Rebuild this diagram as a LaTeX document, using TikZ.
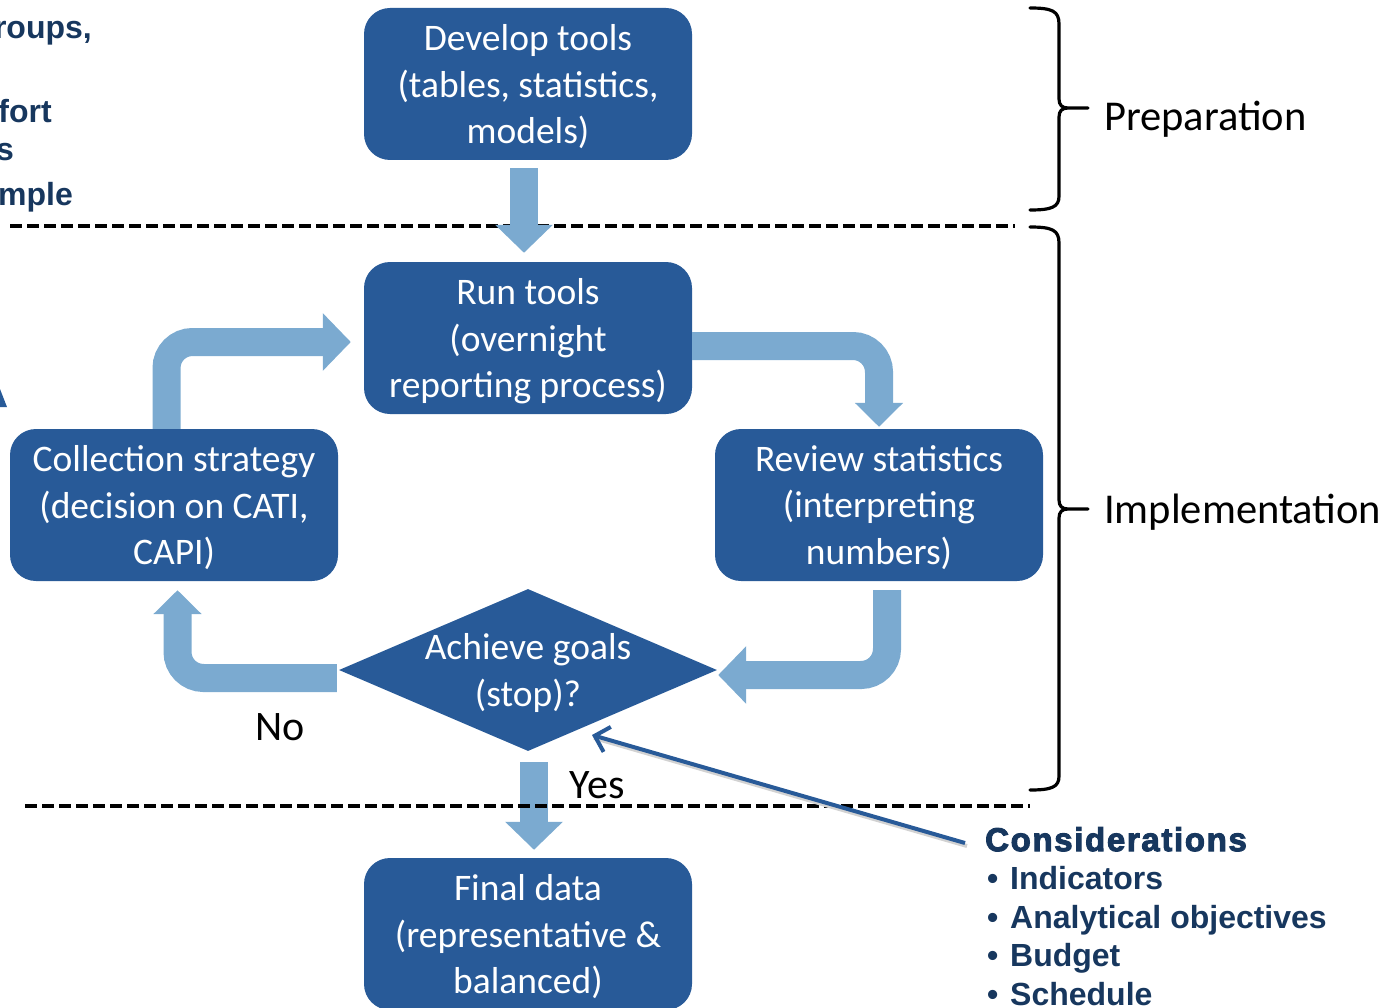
\documentclass[tikz,border=0pt]{standalone}
\usepackage{fontspec}
\usepackage{xcolor}
\setmainfont{Carlito}
\newfontfamily\notefont{Liberation Sans}
\newfontfamily\heavyfont{Liberation Sans Bold}[FakeBold=3, LetterSpace=5]
\usetikzlibrary{shapes.geometric, arrows.meta, positioning, calc}
\definecolor{boxblue}{RGB}{40, 90, 152}
\definecolor{flowblue}{RGB}{123, 170, 208}
\definecolor{notenavy}{RGB}{23, 55, 94}
\tikzstyle{process} = [rectangle, rounded corners=26pt, minimum width=328pt, minimum height=152pt, text centered, align=center, fill=boxblue, text=white, font=\fontsize{37.5}{46.5}\selectfont, text depth=0pt]
\tikzstyle{decision} = [diamond, minimum width=378pt, minimum height=162pt, inner sep=0pt, fill=boxblue]
\tikzstyle{boxlabel} = [align=center, text=white, font=\fontsize{37.5}{46.5}\selectfont, text depth=0pt]
\tikzstyle{flow} = [line width=28pt, draw=flowblue, rounded corners=26pt, -{Triangle[length=28pt, width=56pt]}]
\tikzstyle{smallflow} = [flow, -{Triangle[length=24pt, width=47pt]}]
\tikzstyle{pointer} = [line width=4pt, draw=boxblue, -{Straight Barb[length=13pt, width=26pt]}]
\tikzstyle{stage} = [line width=3.2pt, line cap=round]
\tikzstyle{cut} = [line width=3.5pt, dash pattern=on 12pt off 5pt]
\tikzstyle{answer} = [inner sep=0pt, font=\fontsize{42}{48}\selectfont]
\tikzstyle{phase} = [anchor=west, inner sep=0pt, font=\fontsize{42.5}{50}\selectfont]
\tikzstyle{note} = [inner sep=0pt, text=notenavy, align=left, font=\notefont\bfseries\fontsize{32}{38.5}\selectfont]

\begin{document}
\begin{tikzpicture}[x=1pt, y=-1pt]
\clip (0,0) rectangle (1396,1008);

% Main loop
\node (develop) [process] at (528,84) {Develop tools\\(tables, statistics,\\models)};
\node (run) [process, below of=develop, node distance=254pt] {Run tools\\(overnight\\reporting process)};
\node (goal) [decision, below of=run, node distance=332pt] {};
\node (goaltext) [boxlabel] at (goal) {Achieve goals\\(stop)?};
\node (final) [process, below of=goal, node distance=264pt] {Final data\\(representative \&\\balanced)};
\node (collect) [process, below of=run, node distance=167pt, xshift=-354pt] {Collection strategy\\(decision on CATI,\\CAPI)};
\node (review) [process, below of=run, node distance=167pt, xshift=351pt] {Review statistics\\(interpreting\\numbers)};

% Stage separator (behind the first arrow)
\draw [cut] (10,226) -- (1015,226);

% Arrows
\draw [flow] ([xshift=-4pt, yshift=-8pt]develop.south) -- ([xshift=-4pt, yshift=9pt]run.north);
\draw [flow] ([xshift=-7.5pt]collect.north) |- ([xshift=-13pt, yshift=-4pt]run.west);
\draw [smallflow] ([yshift=-8pt]run.east) -| ([yshift=2pt]review.north);
\draw [flow] ([xshift=8pt, yshift=-9pt]review.south) |- ([xshift=1pt, yshift=-5pt]goal.east);
\draw [smallflow] ([xshift=-2pt, yshift=-8pt]goal.west) -| ([xshift=3.5pt, yshift=-9pt]collect.south);
\draw [flow] ([xshift=6pt, yshift=-11pt]goal.south) -- ([xshift=6pt, yshift=8pt]final.north);

\node (no) [answer] at (280,727) {No};
\node (yes) [answer] at (597,785) {Yes};

% Stage separator (over the last arrow)
\draw [cut] (25,806) -- (1030,806);

% Braces
\draw [stage] (1030,8) .. controls (1052,8) and (1059,11) .. (1059,24) -- (1059,99)
  .. controls (1059,105) and (1062,108) .. (1068,108) -- (1088,108)
  (1068,108) .. controls (1062,108) and (1059,111) .. (1059,117) -- (1059,196)
  .. controls (1059,207) and (1052,210) .. (1030,210);
\draw [stage] (1030,227) .. controls (1052,227) and (1059,230) .. (1059,243) -- (1059,500)
  .. controls (1059,506) and (1062,509) .. (1068,509) -- (1088,509)
  (1068,509) .. controls (1062,509) and (1059,512) .. (1059,518) -- (1059,776)
  .. controls (1059,787) and (1052,790) .. (1030,790);
\node (prep) [phase] at (1104,119) {Preparation};
\node (impl) [phase] at (1104,512) {Implementation};

% Considerations
\node (consider) [note, anchor=north west] at (985,827) {{\heavyfont\fontsize{33}{38.5}\selectfont Considerations}\\
  \makebox[25pt][l]{\hspace{2pt}•}Indicators\\
  \makebox[25pt][l]{\hspace{2pt}•}Analytical objectives\\
  \makebox[25pt][l]{\hspace{2pt}•}Budget\\
  \makebox[25pt][l]{\hspace{2pt}•}Schedule};
\coordinate (aim) at (592,735);
\coordinate (tail) at (965,843);
\draw [line width=4pt, gray!35] ([shift={(2pt,-3pt)}]tail) -- ([shift={(2pt,-3pt)}]aim);
\draw [pointer] (tail) -- (aim);

% Text running in from the left margin
\node (cutgroups) [note, anchor=base east] at (92,39) {roups,};
\node (cuteffort) [note, anchor=base east] at (52,123) {fort};
\node (cuts) [note, anchor=base east] at (14,161) {s};
\node (cutsample) [note, anchor=base east] at (73,206) {mple};
\fill [boxblue] (0,389) -- (7,407) -- (0,407) -- cycle;

\end{tikzpicture}
\end{document}
